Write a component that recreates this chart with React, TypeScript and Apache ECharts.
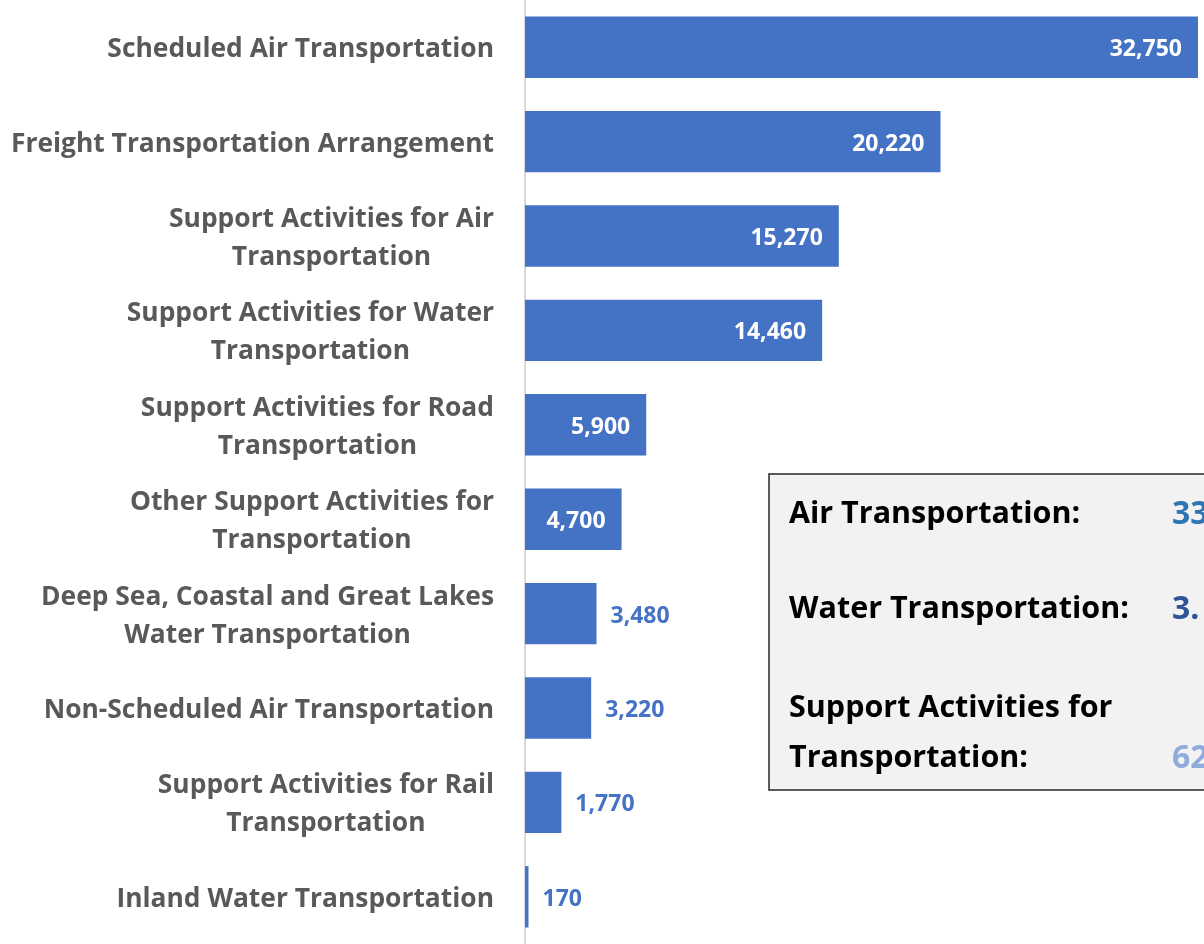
import React, { useEffect, useRef } from "react";
import * as echarts from "echarts";

const categories = [
  "Scheduled Air Transportation",
  "Freight Transportation Arrangement",
  "Support Activities for Air\nTransportation",
  "Support Activities for Water\nTransportation",
  "Support Activities for Road\nTransportation",
  "Other Support Activities for\nTransportation",
  "Deep Sea, Coastal and Great Lakes\nWater Transportation",
  "Non-Scheduled Air Transportation",
  "Support Activities for Rail\nTransportation",
  "Inland Water Transportation",
];

const values = [32750, 20220, 15270, 14460, 5900, 4700, 3480, 3220, 1770, 170];

const summaryLabels = ["Air Transportation:", "Water Transportation:", "Support Activities for\nTransportation:"];
const summaryValues = ["33", "3.", "62"];
const summaryColors = ["#2E75B6", "#2F5597", "#8FAADC"];

const FONT = "Open Sans";
const BAR = "#4472C4";

export default function App() {
  const ref = useRef<HTMLDivElement>(null);
  useEffect(() => {
    if (!ref.current) return;
    const chart = echarts.init(ref.current, undefined, { renderer: "svg" });
    const fmt = (v: number) => v.toLocaleString("en-US");
    const data = values.map((v) => ({
      value: v,
      label:
        v >= 4000
          ? { position: "insideRight", distance: 16, color: "#ffffff" }
          : { position: "right", distance: 14, color: BAR },
    }));

    const labelYs = [511, 606, 730];
    const valueYs = [511, 606, 755];
    const graphics: any[] = [
      {
        type: "rect",
        shape: { x: 769, y: 474, width: 470, height: 316 },
        style: { fill: "#f2f2f2", stroke: "#262626", lineWidth: 1.5 },
        z: 10,
      },
    ];
    summaryLabels.forEach((t, i) => {
      graphics.push({
        type: "text",
        x: 789,
        y: labelYs[i],
        z: 11,
        style: {
          text: t,
          fontSize: 30.5,
          fontWeight: "bold",
          fontFamily: FONT,
          fill: "#000000",
          verticalAlign: "middle",
          lineHeight: 50,
        },
      });
      graphics.push({
        type: "text",
        x: 1172,
        y: valueYs[i],
        z: 11,
        style: {
          text: summaryValues[i],
          fontSize: 32,
          fontWeight: "bold",
          fontFamily: FONT,
          fill: summaryColors[i],
          verticalAlign: "middle",
        },
      });
    });

    chart.setOption({
      animation: false,
      grid: { left: 525, right: 6, top: 0, height: 949, containLabel: false },
      xAxis: {
        type: "value",
        min: 0,
        max: 32750,
        show: false,
      },
      yAxis: {
        type: "category",
        inverse: true,
        data: categories,
        axisLine: { show: true, lineStyle: { color: "#d9d9d9", width: 2 } },
        axisTick: { show: false },
        axisLabel: {
          margin: 31,
          align: "right",
          formatter: (v: string) => v.split("\n").map((l) => `{c|${l}}`).join("\n"),
          rich: {
            c: {
              align: "center",
              fontFamily: FONT,
              fontWeight: "bold",
              fontSize: 26.4,
              color: "#595959",
              lineHeight: 38,
            },
          },
        },
      },
      series: [
        {
          type: "bar",
          data,
          barCategoryGap: "35%",
          itemStyle: { color: BAR },
          label: {
            show: true,
            fontFamily: FONT,
            fontWeight: "bold",
            fontSize: 23,
            formatter: (p: any) => fmt(p.value),
          },
        },
      ],
      graphic: graphics,
    });
    return () => chart.dispose();
  }, []);
  return (
    <div
      ref={ref}
      style={{ position: "fixed", left: 0, top: 0, width: 1204, height: 944 }}
    />
  );
}
